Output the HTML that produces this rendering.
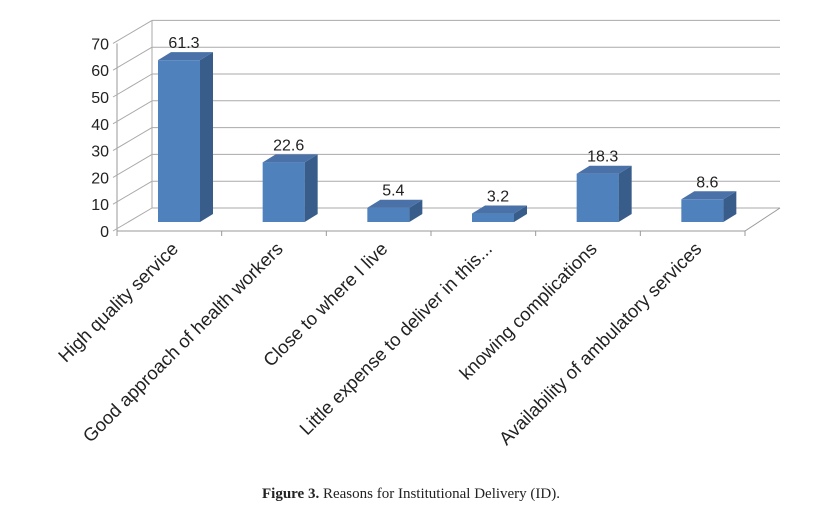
<!DOCTYPE html>
<html><head><meta charset="utf-8"><style>
body{margin:0;background:#fff;width:822px;height:522px;overflow:hidden}
svg text{font-family:"Liberation Sans",sans-serif}
</style></head><body>
<svg id="chart" width="822" height="522" xmlns="http://www.w3.org/2000/svg"></svg>
<script>
const categories=["High quality service","Good approach of health workers","Close to where I live","Little expense to deliver in this...","knowing complications","Availability of ambulatory services"];
const values=[61.3,22.6,5.4,3.2,18.3,8.6];
const ticks=[0,10,20,30,40,50,60,70];
const NS="http://www.w3.org/2000/svg";
const svg=document.getElementById('chart');
function mk(t,a,p){const e=document.createElementNS(NS,t);for(const k in a)e.setAttribute(k,a[k]);(p||svg).appendChild(e);return e;}
const x0=117,x1=745,y0=231,DX=35,DY=-23,S=2.68;
const yF=v=>y0-v*S;
const cw=(x1-x0)/categories.length;
const ax=mk('g',{});


mk('line',{x1:x0+DX,y1:yF(70)+DY,x2:x0+DX,y2:y0+DY,stroke:'#aaa'},ax);
mk('line',{x1:x0,y1:yF(70),x2:x0,y2:y0,stroke:'#999'},ax);
ticks.forEach(t=>{
  const g=mk('line',{x1:x0+DX,y1:yF(t)+DY,x2:x1+DX,y2:yF(t)+DY,stroke:'#aaa'},ax);
  
  
  mk('line',{x1:x0-4,y1:yF(t),x2:x0+DX,y2:yF(t)+DY,stroke:'#aaa'},ax);
  const l=mk('text',{x:x0-8,y:yF(t)+6,'text-anchor':'end','font-size':'16',fill:'#222'},ax);
  l.textContent=t;
  
  
});
mk('polyline',{points:`${x0},${y0} ${x1},${y0} ${x1+DX},${y0+DY}`,stroke:'#999',fill:'none'});
for(let i=0;i<=categories.length;i++){mk('line',{x1:x0+i*cw,y1:y0,x2:x0+i*cw,y2:y0+5,stroke:'#999'});}
const W=42,dx=13,dy=-8,base=222;
values.forEach((v,i)=>{
  const g=mk('g',{});
  
  
  const xl=x0+i*cw+41, top=base-v*2.64;
  mk('rect',{x:xl,y:top,width:W,height:base-top,fill:'#4f81bd'},g);
  mk('polygon',{points:`${xl+W},${top} ${xl+W+dx},${top+dy} ${xl+W+dx},${base+dy} ${xl+W},${base}`,fill:'#385d8a'},g);
  mk('polygon',{points:`${xl},${top} ${xl+dx},${top+dy} ${xl+W+dx},${top+dy} ${xl+W},${top}`,fill:'#4a72a8'},g);
  const t=mk('text',{x:xl+W/2+5,y:top-12,'text-anchor':'middle','font-size':'16',fill:'#222'},g);
  t.textContent=v;
  
  
  const c=x0+i*cw+cw/2+10;
  const xlb=mk('text',{x:c,y:250,'text-anchor':'end','font-size':'18.5',fill:'#222',transform:`rotate(-45 ${c} 250)`});
  xlb.textContent=categories[i];
  
  
});
const cap=mk('text',{x:411,y:498,'text-anchor':'middle','font-size':'15',fill:'#222',style:'font-family:"Liberation Serif",serif'});
cap.innerHTML='<tspan font-weight="bold">Figure 3.</tspan> Reasons for Institutional Delivery (ID).';


</script>
</body></html>
